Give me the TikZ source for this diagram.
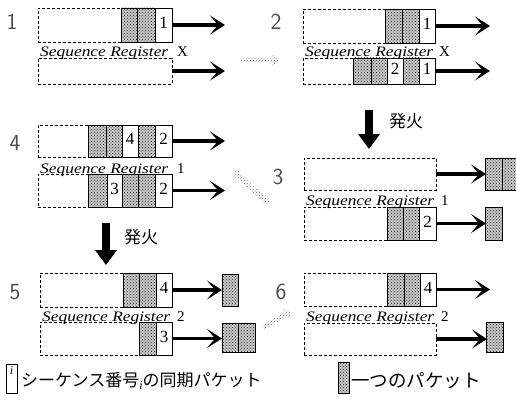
\documentclass[tikz,border=0pt]{standalone}
\usepackage{fontspec}
\setmainfont{Liberation Serif}
\newfontfamily\cjk{Noto Sans CJK JP}
\usetikzlibrary{patterns,arrows.meta,shapes.arrows}
\newcommand\pcell[4]{\draw[cellS] (#1,#2) rectangle (#3,#4);}
\newcommand\ncell[5]{\draw[cellN] (#1,#2) rectangle (#3,#4);
  \node[num] at ({(#1+#3)/2},{(#2+#4)/2-2}) {#5};}
\begin{document}
\begin{tikzpicture}[x=1pt,y=-1pt,
  reg/.style={draw, dash pattern=on 3pt off 2pt, line width=0.7pt, inner sep=0pt, outer sep=0pt, anchor=north west},
  cellS/.style={draw, line width=0.8pt, preaction={fill=black!22}, pattern=crosshatch dots, pattern color=black!85},
  cellN/.style={draw, line width=0.8pt, fill=white},
  num/.style={font=\fontsize{17}{17}\selectfont, inner sep=0pt},
  flow/.style={line width=3.6pt, -{Stealth[length=15pt,width=19pt,inset=8pt]}},
  fire/.style={line width=8pt, -{Triangle[length=15pt,width=21pt]}},
  seq/.style={font=\fontsize{14.5}{14.5}\selectfont\itshape, inner sep=0pt, anchor=base west},
  tag/.style={font=\fontsize{15}{15}\selectfont, inner sep=0pt, anchor=base west},
  lbl/.style={font=\sffamily\fontsize{23}{23}\selectfont, inner sep=0pt, text=black!70},
  jp/.style={font=\cjk\fontsize{17}{17}\selectfont, inner sep=0pt, anchor=west},
  dotarrow/.style={single arrow, draw=none, pattern=crosshatch dots, pattern color=black!60,
    minimum width=13pt, single arrow head extend=3pt, inner sep=1.5pt}]
\useasboundingbox (0,0) rectangle (516,401);

% ---------- Panel 1 ----------
\node[lbl] (l1) at (12,22) {1};
\node[reg, minimum width=134pt, minimum height=34pt] (r1t) at (38,8) {};
\pcell{121}{8}{137}{42}\pcell{137}{8}{155}{42}\ncell{155}{8}{172}{42}{1}
\coordinate (e1t) at (225,25);
\draw[flow] (r1t.east) -- (e1t);
\node[seq] (s1) at (40,57) {\scalebox{1.2}[1]{Sequence Register}};
\node[tag] (x1) at (177,57) {X};
\node[reg, minimum width=134pt, minimum height=26pt] (r1b) at (38,58) {};
\coordinate (e1b) at (225,71);
\draw[flow] (r1b.east) -- (e1b);

% ---------- Panel 2 ----------
\node[lbl] (l2) at (276,22) {2};
\node[reg, minimum width=132pt, minimum height=34pt] (r2t) at (303,9) {};
\pcell{385}{9}{402}{43}\pcell{402}{9}{419}{43}\ncell{419}{9}{435}{43}{1}
\coordinate (e2t) at (490,26);
\draw[flow] (r2t.east) -- (e2t);
\node[seq] (s2) at (305,57) {\scalebox{1.2}[1]{Sequence Register}};
\node[tag] (x2) at (439,57) {X};
\node[reg, minimum width=132pt, minimum height=26pt] (r2b) at (303,58) {};
\pcell{353}{58}{371}{84}\pcell{371}{58}{387}{84}\ncell{387}{58}{403}{84}{2}
\pcell{403}{58}{419}{84}\ncell{419}{58}{435}{84}{1}
\coordinate (e2b) at (490,71);
\draw[flow] (r2b.east) -- (e2b);

% ---------- fire 1 ----------
\coordinate (f1a) at (369,110);
\coordinate (f1b) at (369,149);
\draw[fire] (f1a) -- (f1b);
\node[jp] (j1) at (389,121) {発火};

% ---------- Panel 3 ----------
\node[lbl] (l3) at (278,177) {3};
\node[reg, minimum width=132pt, minimum height=32pt] (r3t) at (304,158) {};
\pcell{485}{158}{502}{190}\pcell{502}{158}{518}{190}
\coordinate (e3t) at (486,174);
\draw[flow] (r3t.east) -- (e3t);
\node[seq] (s3) at (306,205) {\scalebox{1.2}[1]{Sequence Register}};
\node[tag] (x3) at (441,205) {1};
\node[reg, minimum width=132pt, minimum height=33pt] (r3b) at (304,207) {};
\pcell{387}{207}{403}{240}\pcell{403}{207}{419}{240}\ncell{419}{207}{436}{240}{2}
\pcell{485}{207}{502}{240}
\coordinate (e3b) at (486,223.5);
\draw[flow] (r3b.east) -- (e3b);

% ---------- Panel 4 ----------
\node[lbl] (l4) at (15,143) {4};
\node[reg, minimum width=134pt, minimum height=32pt] (r4t) at (38,125) {};
\pcell{88}{125}{106}{157}\pcell{106}{125}{122}{157}\ncell{122}{125}{138}{157}{4}
\pcell{138}{125}{155}{157}\ncell{155}{125}{172}{157}{2}
\coordinate (e4t) at (225,141);
\draw[flow] (r4t.east) -- (e4t);
\node[seq] (s4) at (40,173) {\scalebox{1.2}[1]{Sequence Register}};
\node[tag] (x4) at (177,173) {1};
\node[reg, minimum width=134pt, minimum height=33pt] (r4b) at (38,174) {};
\pcell{88}{174}{107}{207}\ncell{107}{174}{122}{207}{3}\pcell{122}{174}{138}{207}
\pcell{138}{174}{155}{207}\ncell{155}{174}{172}{207}{2}
\coordinate (e4b) at (225,190.5);
\draw[flow] (r4b.east) -- (e4b);

% ---------- fire 2 ----------
\coordinate (f2a) at (106,223);
\coordinate (f2b) at (106,265);
\draw[fire] (f2a) -- (f2b);
\node[jp] (j2) at (124,237) {発火};

% ---------- Panel 5 ----------
\node[lbl] (l5) at (15,292) {5};
\node[reg, minimum width=132pt, minimum height=34pt] (r5t) at (40,273) {};
\pcell{123}{273}{139}{307}\pcell{139}{273}{156}{307}\ncell{156}{273}{172}{307}{4}
\pcell{222}{274}{238}{306}
\coordinate (e5t) at (222,290);
\draw[flow] (r5t.east) -- (e5t);
\node[seq] (s5) at (42,321) {\scalebox{1.2}[1]{Sequence Register}};
\node[tag] (x5) at (177,321) {2};
\node[reg, minimum width=132pt, minimum height=33pt] (r5b) at (40,322) {};
\pcell{139}{322}{156}{355}\ncell{156}{322}{172}{355}{3}
\pcell{222}{323}{238}{352}\pcell{238}{323}{255}{352}
\coordinate (e5b) at (222,338.5);
\draw[flow] (r5b.east) -- (e5b);

% ---------- Panel 6 ----------
\node[lbl] (l6) at (281,292) {6};
\node[reg, minimum width=132pt, minimum height=33pt] (r6t) at (304,273) {};
\pcell{387}{273}{404}{306}\pcell{404}{273}{420}{306}\ncell{420}{273}{436}{306}{4}
\coordinate (e6t) at (490,289.5);
\draw[flow] (r6t.east) -- (e6t);
\node[seq] (s6) at (306,321) {\scalebox{1.2}[1]{Sequence Register}};
\node[tag] (x6) at (441,321) {2};
\node[reg, minimum width=132pt, minimum height=32pt] (r6b) at (304,323) {};
\pcell{486}{322}{503}{352}
\coordinate (e6b) at (487,339);
\draw[flow] (r6b.east) -- (e6b);

% ---------- transitions between panels ----------
\node[dotarrow, minimum height=38pt] (d12) at (259,60) {};
\node[dotarrow, minimum height=48pt, rotate=136.6] (d34) at (251.5,187.5) {};
\node[dotarrow, minimum height=32pt, rotate=29.7] (d56) at (276,320) {};

% ---------- legend ----------
\draw[cellN] (6,364) rectangle (17,393);
\node[font=\itshape\fontsize{12}{12}\selectfont, inner sep=0pt, anchor=north] (li) at (11.5,366) {i};
\node[jp] (lg1) at (21,381) {シーケンス番号\raisebox{-3pt}{\rmfamily\itshape\fontsize{12}{12}\selectfont i}の同期パケット};
\draw[cellS] (338,362) rectangle (349,393);
\node[jp, font=\cjk\fontsize{18.5}{18.5}\selectfont] (lg2) at (351,381) {一つのパケット};
\end{tikzpicture}
\end{document}
